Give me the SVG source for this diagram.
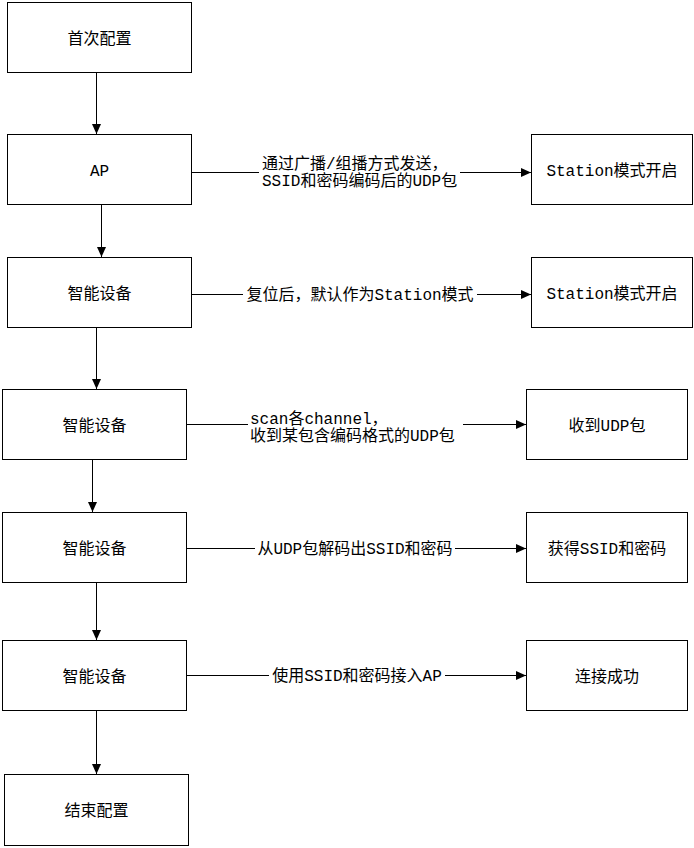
<svg xmlns="http://www.w3.org/2000/svg" width="694" height="848" viewBox="0 0 694 848">
<style>
  .box{fill:#fff;stroke:#000;stroke-width:1}
  .t{font-family:"Liberation Mono","Noto Sans CJK SC",monospace;font-size:16px;fill:#000}
  .c{text-anchor:middle}
  .ln{stroke:#000;stroke-width:1;fill:none;marker-end:url(#ah)}
  .bg{fill:#fff}
</style>
<defs>
  <marker id="ah" markerUnits="userSpaceOnUse" markerWidth="10" markerHeight="10" refX="10" refY="5" orient="auto">
    <path d="M0,0.5 L10,5 L0,9.5 z" fill="#000"/>
  </marker>
</defs>
<rect width="694" height="848" fill="#fff"/>
<g id="connectors">
  <line class="ln" x1="96.5" y1="73" x2="96.5" y2="134"/>
  <line class="ln" x1="101.5" y1="205" x2="101.5" y2="257"/>
  <line class="ln" x1="96.5" y1="328" x2="96.5" y2="389"/>
  <line class="ln" x1="92.5" y1="460" x2="92.5" y2="512"/>
  <line class="ln" x1="96.5" y1="583" x2="96.5" y2="640"/>
  <line class="ln" x1="96.5" y1="711" x2="96.5" y2="774"/>
  <line class="ln" x1="191.5" y1="172.5" x2="531" y2="172.5"/>
  <line class="ln" x1="191.5" y1="294.5" x2="531" y2="294.5"/>
  <line class="ln" x1="186.5" y1="424.5" x2="526" y2="424.5"/>
  <line class="ln" x1="186.5" y1="548.5" x2="526" y2="548.5"/>
  <line class="ln" x1="186.5" y1="675.5" x2="526" y2="675.5"/>
  <g id="label1">
    <rect class="bg" x="259" y="154" width="201" height="36"/>
    <text class="t" x="262" y="169">通过广播/组播方式发送，</text>
    <text class="t" x="262" y="186">SSID和密码编码后的UDP包</text>
  </g>
  <g id="label2">
    <rect class="bg" x="243" y="284" width="234" height="20"/>
    <text class="t c" x="360" y="300">复位后，默认作为Station模式</text>
  </g>
  <g id="label3">
    <rect class="bg" x="248" y="408" width="215" height="36"/>
    <text class="t" x="250" y="424">scan各channel，</text>
    <text class="t" x="250" y="441">收到某包含编码格式的UDP包</text>
  </g>
  <g id="label4">
    <rect class="bg" x="255" y="538" width="200" height="20"/>
    <text class="t c" x="355" y="554">从UDP包解码出SSID和密码</text>
  </g>
  <g id="label5">
    <rect class="bg" x="269" y="665" width="176" height="20"/>
    <text class="t c" x="357" y="681">使用SSID和密码接入AP</text>
  </g>
</g>
<g id="n_start"><rect class="box" x="7.5" y="2.5" width="184" height="70"/><text class="t c" x="99.5" y="43.5">首次配置</text></g>
<g id="n_ap"><rect class="box" x="7.5" y="134.5" width="184" height="70"/><text class="t c" x="99.5" y="176">AP</text></g>
<g id="n_dev1"><rect class="box" x="7.5" y="257.5" width="184" height="70"/><text class="t c" x="99.5" y="298.5">智能设备</text></g>
<g id="n_dev2"><rect class="box" x="2.5" y="389.5" width="184" height="70"/><text class="t c" x="94.5" y="430.5">智能设备</text></g>
<g id="n_dev3"><rect class="box" x="2.5" y="512.5" width="184" height="70"/><text class="t c" x="94.5" y="553.5">智能设备</text></g>
<g id="n_dev4"><rect class="box" x="2.5" y="640.5" width="184" height="70"/><text class="t c" x="94.5" y="681.5">智能设备</text></g>
<g id="n_end"><rect class="box" x="4.5" y="774.5" width="184" height="71"/><text class="t c" x="96.5" y="816">结束配置</text></g>
<g id="n_sta1"><rect class="box" x="531.5" y="134.5" width="161" height="70"/><text class="t c" x="612" y="175.5">Station模式开启</text></g>
<g id="n_sta2"><rect class="box" x="531.5" y="257.5" width="161" height="70"/><text class="t c" x="612" y="298.5">Station模式开启</text></g>
<g id="n_udp"><rect class="box" x="526.5" y="389.5" width="161" height="70"/><text class="t c" x="607" y="430.5">收到UDP包</text></g>
<g id="n_ssid"><rect class="box" x="526.5" y="512.5" width="161" height="70"/><text class="t c" x="607" y="553.5">获得SSID和密码</text></g>
<g id="n_ok"><rect class="box" x="526.5" y="640.5" width="161" height="70"/><text class="t c" x="607" y="681.5">连接成功</text></g>
</svg>
